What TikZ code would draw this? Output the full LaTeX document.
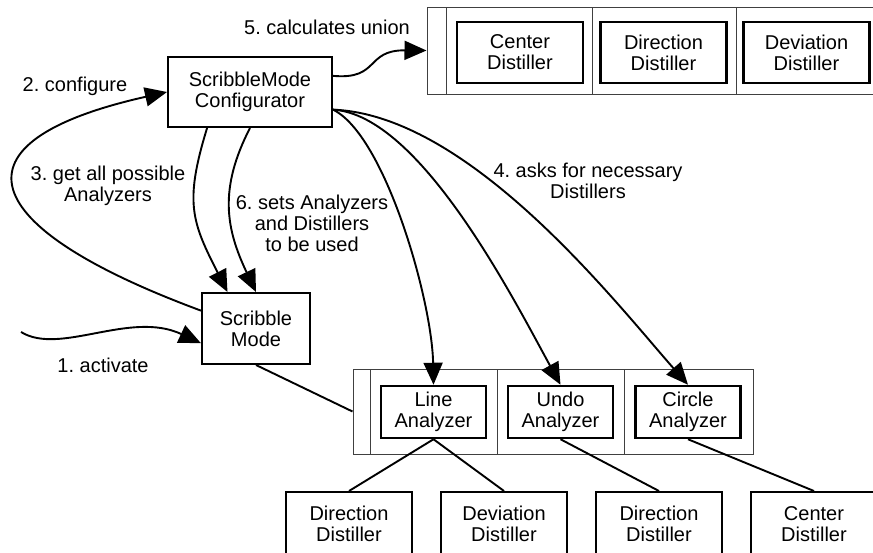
\documentclass[tikz,border=0pt]{standalone}
\usepackage{fontspec}
\setmainfont{Liberation Sans}
\usetikzlibrary{arrows.meta, calc, positioning}
\frenchspacing

\begin{document}
\begin{tikzpicture}[x=1pt, y=-1pt, >={Triangle[length=22pt,width=19pt]},
    every node/.style={font=\fontsize{20}{21}\selectfont, align=center},
    box/.style={draw, line width=2pt, inner sep=0pt},
    dist/.style={box, minimum width=126pt, minimum height=61pt},
    ana/.style={box, line width=2.5pt, minimum width=105pt, minimum height=52pt},
    holder/.style={draw=black!75, line width=1pt, inner sep=0pt},
    link/.style={line width=1.9pt}]
    % 0. Rahmen
    \useasboundingbox (0,0) rectangle (873,552);

    % 1. Configurator und Scribble Mode
    \node[box, minimum width=164pt, minimum height=70pt] (conf) at (250,92) {ScribbleMode\\Configurator};
    \node[box, minimum width=108pt, minimum height=71pt] (scrib) at (256,328.5) {Scribble\\Mode};

    % 2. Distiller-Menge oben
    \node[holder, minimum width=453pt, minimum height=87pt] (distset) at (653.5,50.5) {};
    \foreach \x in {446,592,736} {
        \draw[draw=black!75, line width=1pt] (\x,7) -- (\x,94);
    }
    \node[dist, line width=2.5pt] (cenT) at (520,52.5) {Center\\Distiller};
    \node[dist, line width=2.5pt] (dirT) at (663.5,52.5) {Direction\\Distiller};
    \node[dist, line width=2.5pt] (devT) at (806.5,52.5) {Deviation\\Distiller};

    % 3. Analyzer-Menge
    \node[holder, minimum width=400pt, minimum height=85pt] (anaset) at (553,411.5) {};
    \foreach \x in {370,497,624} {
        \draw[draw=black!75, line width=1pt] (\x,369) -- (\x,454);
    }
    \node[ana] (lineA) at (433.5,412) {Line\\Analyzer};
    \node[ana] (undoA) at (560.5,412) {Undo\\Analyzer};
    \node[ana] (circA) at (688,412) {Circle\\Analyzer};

    % 4. Distiller unten
    \node[dist, minimum height=64pt] (dirA) at (349,524) {Direction\\Distiller};
    \node[dist, minimum height=64pt] (devA) at (504,524) {Deviation\\Distiller};
    \node[dist, minimum height=64pt] (dirB) at (659,524) {Direction\\Distiller};
    \node[dist, minimum height=64pt] (cenB) at (814,524) {Center\\Distiller};

    \draw[link] (scrib.south) -- (anaset.west);
    \draw[link] (lineA.south) -- (dirA.north);
    \draw[link] (lineA.south) -- (devA.north);
    \draw[link] (undoA.south) -- (dirB.north);
    \draw[link] (circA.south) -- (cenB.north);

    % 5. Nachrichten
    \coordinate (src) at (21,332);
    \draw[link,->] (src) .. controls (60,356) and (130,310) .. (scrib.195);
    \node (lbl1) at (103,365) {1. activate};

    \draw[link,->] (scrib.162) .. controls (-25,227) and (-56,142) .. (conf.west);
    \node (lbl2) at (75,86) {2. configure};

    \draw[link,->] (conf.220) .. controls (184,203) and (192,222) .. (scrib.128);
    \node (lbl3) at (108,186) {3. get all possible\\Analyzers};

    \draw[link,->] (conf.-12) .. controls (385,135) and (432,300) .. (lineA.north);
    \draw[link,->] (conf.-12) .. controls (420,115) and (513,298) .. (undoA.north);
    \draw[link,->] (conf.-12) .. controls (470,115) and (616,303) .. (circA.north);
    \node (lbl4) at (588,181) {4. asks for necessary\\Distillers};

    \draw[link,->] (conf.11) .. controls (380,80) and (365,50) .. (distset.west);
    \node (lbl5) at (327,27) {5. calculates union};

    \draw[link,->] (conf.south) .. controls (218.5,189) and (226,229) .. (scrib.north);
    \node (lbl6) at (312,223) {6. sets Analyzers\\and Distillers\\to be used};
\end{tikzpicture}
\end{document}
